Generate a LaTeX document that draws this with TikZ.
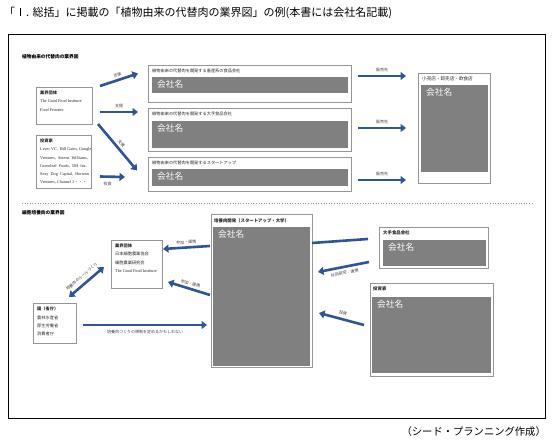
\documentclass[tikz,border=0pt]{standalone}
\usepackage{fontspec}
\setmainfont{Liberation Serif}
\newfontfamily\jp{Noto Sans CJK JP}
\usetikzlibrary{arrows.meta,calc}
\definecolor{flowblue}{RGB}{47,85,151}
\definecolor{boxline}{RGB}{150,150,150}
\definecolor{cogray}{RGB}{128,128,128}
\newcommand{\fs}[2]{\fontsize{#1}{#2}\selectfont}

\begin{document}
\begin{tikzpicture}[x=1pt,y=-1pt,
  frame/.style={draw=boxline,line width=0.8pt,inner sep=0pt,outer sep=0pt,anchor=north west},
  grayblock/.style={fill=cogray,inner sep=0pt,outer sep=0pt,anchor=north west},
  coname/.style={text=white,font=\jp\fs{8.7}{9},inner sep=0pt,anchor=north west},
  boxtext/.style={font=\jp\fs{4.2}{8.2},inner sep=0pt,anchor=north west,align=left,text=black!85},
  boxhead/.style={font=\jp\bfseries\fs{4.4}{5},inner sep=0pt,anchor=north west},
  flow/.style={draw=flowblue,line width=2.6pt,-{Triangle[length=5.5pt,width=8pt]}},
  tag/.style={font=\jp\fs{4}{4.5},text=black!75,inner sep=1pt}]
\useasboundingbox (0,0) rectangle (552,443);
\fill[white] (0,0) rectangle (552,443);

\node[font=\jp\fs{11}{12},anchor=west,inner sep=0pt] (title) at (4,13)
  {「Ⅰ. 総括」に掲載の「植物由来の代替肉の業界図」の例(本書には会社名記載)};
\node[font=\jp\fs{10.3}{11},anchor=east,inner sep=0pt] (credit) at (546,432)
  {（シード・プランニング作成）};
\draw[line width=1pt] (8,35) rectangle (545,419);

% 植物由来の代替肉
\node[font=\jp\bfseries\fs{4.7}{5},anchor=west,inner sep=0pt] (plant) at (22,57) {植物由来の代替肉の業界図};

\node[frame,minimum width=56pt,minimum height=37pt] (grp1) at (36,87) {};
\node[boxtext] at ([shift={(4,4)}]grp1.north west)
  {{\bfseries 業界団体}\\{\rmfamily The Good Food Institute}\\{\rmfamily Food Frontier}};

\node[frame,minimum width=55pt,minimum height=53pt] (inv1) at (36,135) {};
\node[boxtext] at ([shift={(4,4)}]inv1.north west)
  {{\bfseries 投資家}\\\rmfamily Lever VC,\ \ Bill Gates, Google\\\rmfamily Ventures,\ \ Serena\ \ Williams,\\
   \rmfamily Greenleaf\ \ Foods,\ \ DH\ \ Inc,\\\rmfamily Sexy\ \ Dog\ \ Capital,\ \ Horizon\\
   \rmfamily Ventures, Channel 3{\jp・・・}};

\node[frame,minimum width=203pt,minimum height=37pt] (food1) at (148,65) {};
\node[boxtext] at ([shift={(4,4)}]food1.north west) {植物由来の代替肉を開発する畜産系の食品会社};
\node[grayblock,minimum width=196pt,minimum height=16pt] (food1g) at (152,77) {};
\node[coname] at ([shift={(5,3)}]food1g.north west) {会社名};

\node[frame,minimum width=203pt,minimum height=43pt] (food2) at (148,108) {};
\node[boxtext] at ([shift={(4,4)}]food2.north west) {植物由来の代替肉を開発する大手食品会社};
\node[grayblock,minimum width=196pt,minimum height=27pt] (food2g) at (152,121) {};
\node[coname] at ([shift={(5,3)}]food2g.north west) {会社名};

\node[frame,minimum width=203pt,minimum height=34pt] (food3) at (148,157) {};
\node[boxtext] at ([shift={(4,4)}]food3.north west) {植物由来の代替肉を開発するスタートアップ};
\node[grayblock,minimum width=196pt,minimum height=17pt] (food3g) at (152,169) {};
\node[coname] at ([shift={(5,3)}]food3g.north west) {会社名};

\node[frame,minimum width=72pt,minimum height=110pt] (shop) at (418,73) {};
\node[boxtext,font=\jp\fs{4.6}{5}] at ([shift={(4,3)}]shop.north west) {小売店・卸売店・飲食店};
\node[grayblock,minimum width=67pt,minimum height=87pt] (shopg) at (421,85) {};
\node[coname] at ([shift={(5,3)}]shopg.north west) {会社名};

\draw[flow] ([shift={(8,-1)}]grp1.north east) -- node[tag,above=1pt,sloped]{支援} ([shift={(-10,-10)}]food1.west);
\draw[flow] ([shift={(8,6.5)}]grp1.east) -- node[tag,above=2pt]{支援} ([shift={(-10,-17.5)}]food2.west);
\draw[flow] ([shift={(6,0)}]grp1.south east) -- node[tag,above=1pt,sloped]{支援} ([shift={(-11,-3.5)}]food3.west);
\draw[flow] ([shift={(9,-11.5)}]inv1.south east) -- node[tag,below=3pt,pos=0.3]{投資} ([shift={(-23,3)}]food3.west);

\draw[flow] ([shift={(7,-7.5)}]food1.east) -- node[tag,above=2pt]{販売先} ([shift={(-12,-52)}]shop.west);
\draw[flow] ([shift={(7,-1.5)}]food2.east) -- node[tag,above=2pt]{販売先} ([shift={(-12,0)}]shop.west);
\draw[flow] ([shift={(7,6)}]food3.east) -- node[tag,above=2pt]{販売先} ([shift={(-12,52)}]shop.west);

\draw[boxline,dotted,line width=0.6pt] (22,203) -- (532,203);

% 細胞培養肉
\node[font=\jp\bfseries\fs{4.7}{5},anchor=west,inner sep=0pt] (cell) at (22,213) {細胞培養肉の業界図};

\node[frame,minimum width=51pt,minimum height=48pt] (grp2) at (111,240) {};
\node[boxtext] at ([shift={(4,4)}]grp2.north west)
  {{\bfseries 業界団体}\\日本細胞農業協会\\細胞農業研究会\\{\rmfamily The Good Food Institute}};

\node[frame,minimum width=43pt,minimum height=40pt] (gov) at (33,303) {};
\node[boxtext] at ([shift={(4,4)}]gov.north west)
  {{\bfseries 国（省庁）}\\農林水産省\\厚生労働省\\消費者庁};

\node[frame,minimum width=101pt,minimum height=153pt] (lab) at (211,214) {};
\node[boxtext,font=\jp\bfseries\fs{4.4}{5}] at ([shift={(3,4)}]lab.north west) {培養肉開発（スタートアップ・大学）};
\node[grayblock,minimum width=97pt,minimum height=139pt] (labg) at (213,227) {};
\node[coname] at ([shift={(5,3)}]labg.north west) {会社名};

\node[frame,minimum width=109pt,minimum height=41pt] (big) at (379,227) {};
\node[boxtext,font=\jp\bfseries\fs{4.4}{5}] at ([shift={(4,4)}]big.north west) {大手食品会社};
\node[grayblock,minimum width=103pt,minimum height=26pt] (bigg) at (383,240) {};
\node[coname] at ([shift={(5,3)}]bigg.north west) {会社名};

\node[frame,minimum width=123pt,minimum height=93pt] (inv2) at (370,283) {};
\node[boxtext,font=\jp\bfseries\fs{4.4}{5}] at ([shift={(3,4)}]inv2.north west) {投資家};
\node[grayblock,minimum width=119pt,minimum height=76pt] (inv2g) at (372,297) {};
\node[coname] at ([shift={(5,3)}]inv2g.north west) {会社名};

\draw[flow] ([shift={(-1,32)}]lab.north west) -- node[tag,above=1pt,sloped]{参加・連携} ([shift={(1,-15)}]grp2.east);
\draw[flow] ([shift={(-1,81)}]lab.north west) -- node[tag,above=1pt,sloped]{参加・連携} ([shift={(6,-6)}]grp2.south east);
\draw[flow] ([shift={(7,2)}]gov.east) -- node[tag,below=3pt]{培養肉づくりの規制を定めるかもしれない} ([shift={(-4,34.5)}]lab.west);
\draw[flow,{Triangle[length=5.5pt,width=8pt]}-{Triangle[length=5.5pt,width=8pt]}]
  ([shift={(-7,-6)}]gov.north east) -- node[tag,above=3pt,sloped]{培養肉のルールづくり} ([shift={(-7,-21)}]grp2.south west);
\draw[flowblue,line width=2.6pt] ([shift={(-11,-8.5)}]big.west) -- ([shift={(0,-47.5)}]lab.east);
\draw[flow] ([shift={(-10,-6)}]big.south west) -- node[tag,below=2pt,sloped]{共同研究・連携} ([shift={(6,-18.5)}]lab.east);
\draw[flow] ([shift={(-6,-4.5)}]inv2.west) -- node[tag,above=2pt,sloped]{投資} ([shift={(7,22.5)}]lab.east);
\end{tikzpicture}
\end{document}
